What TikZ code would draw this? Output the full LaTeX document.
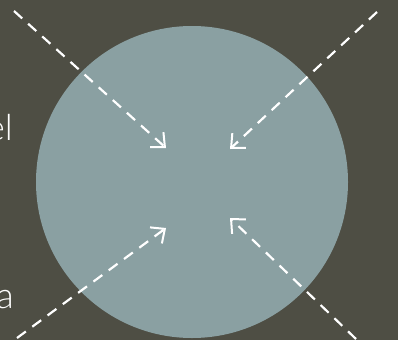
\documentclass[tikz,border=0pt]{standalone}
\usepackage{fontspec}
\setmainfont{Lato Light}
\usetikzlibrary{arrows.meta}
\definecolor{bgcol}{RGB}{78,78,68}
\definecolor{disccol}{RGB}{138,160,162}

\begin{document}
\begin{tikzpicture}[x=1pt, y=-1pt, font=\fontsize{36}{40}\selectfont,
		inward/.style={draw=white, line width=2.2pt, dash pattern=on 11pt off 8pt,
			-{Straight Barb[length=11pt, width=20pt, line width=2pt]}},
		word/.style={text=white, inner sep=0pt, anchor=base east}]
			\useasboundingbox (0,0) rectangle (398,340);
			\fill[bgcol] (0,0) rectangle (398,340);
			\fill[disccol] (192,182) circle (156);
			% outer ends of the dashed lines
			\coordinate (tl) at (14,11);
			\coordinate (tr) at (377,12);
			\coordinate (bl) at (17,338);
			\coordinate (br) at (356,339);
			% arrow tips near the centre
			\coordinate (tlhead) at (166,148);
			\coordinate (trhead) at (230,149);
			\coordinate (blhead) at (166,228);
			\coordinate (brhead) at (230,218);
			\draw[inward] (tl) -- (tlhead);
			\draw[inward] (tr) -- (trhead);
			\draw[inward] (bl) -- (blhead);
			\draw[inward] (br) -- (brhead);
			\node[word] (upper) at (13,140) {el};
			\node[word] (lower) at (14,308) {a};
		\end{tikzpicture}
\end{document}
